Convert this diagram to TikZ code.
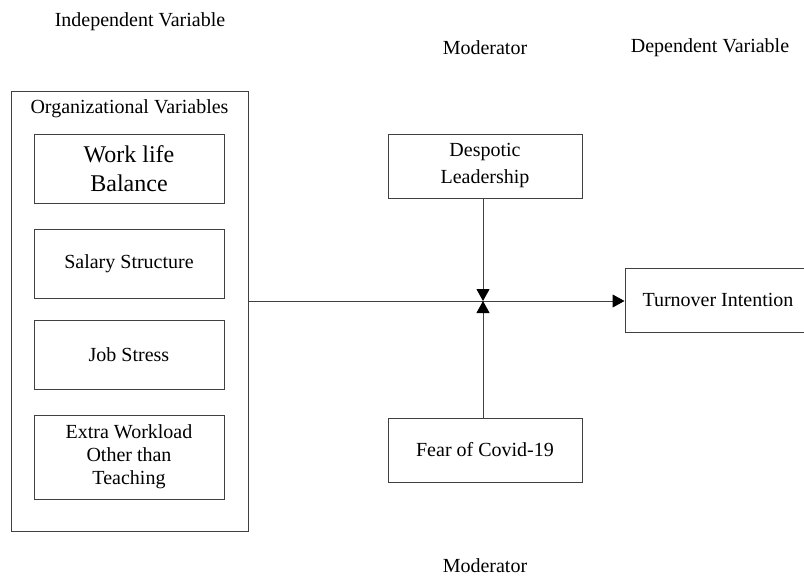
\documentclass[tikz,border=0pt]{standalone}
\usepackage{fontspec}
\setmainfont{Liberation Serif}
\usetikzlibrary{arrows.meta}
\usetikzlibrary{calc}

\tikzset{
	varbox/.style={draw=black!75,line width=1pt,align=center,inner sep=0pt,font=\fontsize{20}{23}\selectfont},
	heading/.style={font=\fontsize{20}{23}\selectfont},
	link/.style={draw=black!75,line width=1pt,-{Triangle[length=12pt,width=13pt,color=black]}}
}

\begin{document}
\begin{tikzpicture}[x=1pt,y=-1pt]
	\useasboundingbox (0,0) rectangle (804,579);
	
	% headings
	\node[heading] (indep) at (140,22) {Independent Variable};
	\node[heading] (modtop) at (485,48) {Moderator};
	\node[heading] (dep) at (710,48) {Dependent Variable};
	\node[heading] (modbot) at (485,566) {Moderator};
	
	% outer box with its items
	\node[varbox,minimum width=237pt,minimum height=440pt] (org) at (129.5,311) {};
	\node[heading] (orgtitle) at (129.5,109) {Organizational Variables};
	\node[varbox,minimum width=190pt,minimum height=69pt,font=\fontsize{24}{29}\selectfont] (wlb) at (129,168.5) {Work life\\Balance};
	\node[varbox,minimum width=190pt,minimum height=69pt] (salary) at (129,263.5) {Salary Structure};
	\node[varbox,minimum width=190pt,minimum height=69pt] (stress) at (129,354.5) {Job Stress};
	\node[varbox,minimum width=190pt,minimum height=84pt] (workload) at (129,457) {Extra Workload\\Other than\\Teaching};
	
	% moderators and outcome
	\node[varbox,minimum width=194pt,minimum height=64pt,font=\fontsize{20}{27}\selectfont] (desp) at (485,166) {Despotic\\Leadership};
	\node[varbox,minimum width=194pt,minimum height=64pt] (fear) at (485,450) {Fear of Covid-19};
	\node[varbox,minimum width=186pt,minimum height=64pt] (turn) at (718,300) {Turnover Intention};
	
	\coordinate (meet) at (483,301);
	
	\draw[link] (org.east |- meet) -- (turn.west |- meet);
	\draw[link] (desp.south -| meet) -- (meet);
	\draw[link] (fear.north -| meet) -- (meet);
\end{tikzpicture}
\end{document}
